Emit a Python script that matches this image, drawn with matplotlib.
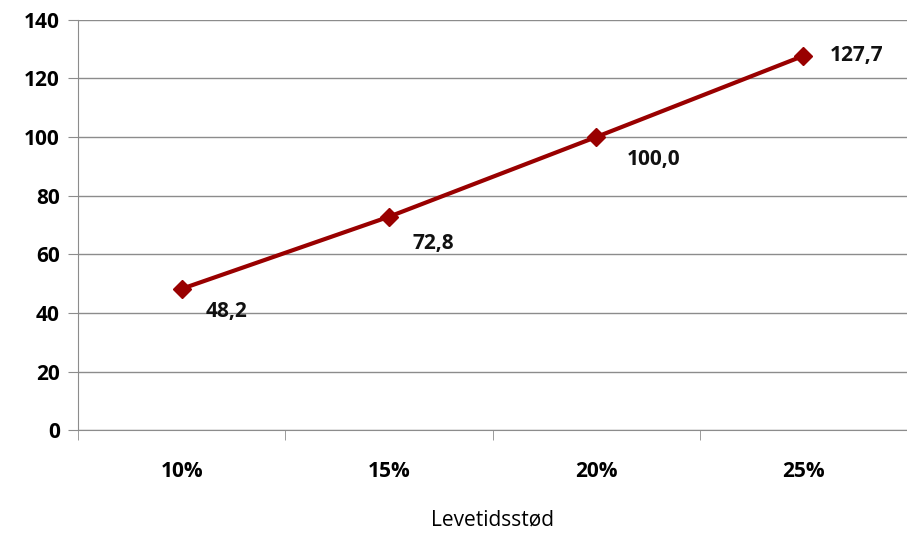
import matplotlib.pyplot as plt

categories = ["10%", "15%", "20%", "25%"]
values = [48.2, 72.8, 100.0, 127.7]
value_labels = ["48,2", "72,8", "100,0", "127,7"]
# label offsets in points (dx, dy) relative to each marker
label_offsets = [(17, -16), (17, -19), (22, -16), (19, 0)]

plt.rcParams['font.family'] = ['Open Sans', 'DejaVu Sans']

fig = plt.figure(figsize=(9.07, 5.35), dpi=100)
ax = fig.add_axes([0.086, 0.196, 0.914, 0.767])

x = list(range(len(categories)))
ax.plot(x, values, color="#990000", linewidth=3, marker="D", markersize=9,
        markeredgecolor="#990000", markerfacecolor="#990000", zorder=3)

for xi, v, lab, (dx, dy) in zip(x, values, value_labels, label_offsets):
    ax.annotate(lab, (xi, v), xytext=(dx, dy), textcoords="offset points",
                ha="left", va="center", fontsize=15, fontweight="bold", color="#111111")

ax.set_ylim(0, 140)
ax.set_yticks(range(0, 141, 20))
ax.set_xlim(-0.5, 3.475)
ax.set_xticks(x)
ax.set_xticklabels(categories)
ax.set_xticks([-0.5, 0.5, 1.5, 2.5, 3.5], minor=True)

ax.grid(axis="y", color="#8c8c8c", linewidth=1)
ax.set_axisbelow(True)
for s in ["top", "right"]:
    ax.spines[s].set_visible(False)
for s in ["left", "bottom"]:
    ax.spines[s].set_color("#8c8c8c")

ax.tick_params(axis="y", length=7, color="#8c8c8c", labelsize=15, pad=6)
ax.tick_params(axis="x", which="major", length=0, labelsize=15, pad=22)
ax.tick_params(axis="x", which="minor", length=7, color="#8c8c8c")
for lab in ax.get_xticklabels() + ax.get_yticklabels():
    lab.set_fontweight("bold")

ax.set_xlabel("Levetidsstød", fontsize=15, labelpad=20)

fig.savefig("out.png", dpi=100)
